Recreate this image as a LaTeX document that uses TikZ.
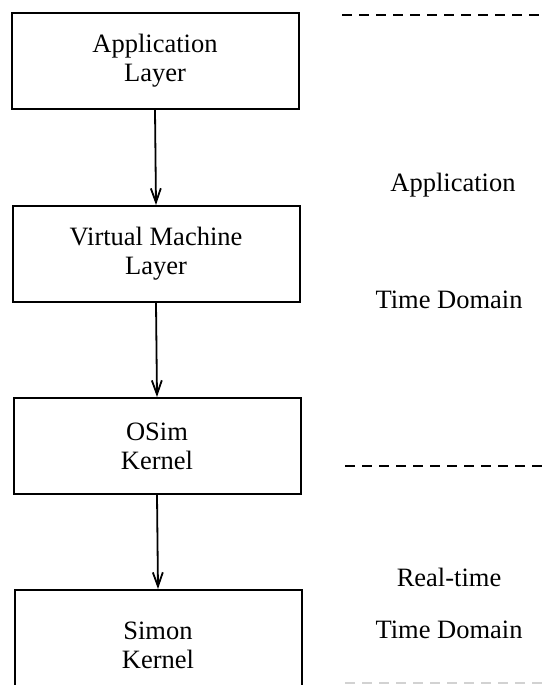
\documentclass[tikz,border=0pt]{standalone}
\usepackage{fontspec}
\setmainfont{Liberation Serif}
\usetikzlibrary{arrows.meta}
\tikzset{
  layerbox/.style={draw, line width=2pt, minimum width=287pt, minimum height=96pt, inner sep=0pt, align=center, font=\fontsize{26.5}{29}\selectfont},
  lbl/.style={font=\fontsize{26.5}{29}\selectfont, inner sep=0pt},
  flow/.style={line width=1.8pt, -{Straight Barb[length=14pt,width=10pt,line width=1.8pt]}},
  sep/.style={line width=1.8pt, dash pattern=on 10pt off 7pt},
}
\begin{document}
\begin{tikzpicture}[x=1pt,y=-1pt]
\useasboundingbox (0,0) rectangle (543,685);
\clip (0,0) rectangle (543,685);
\fill[white] (0,0) rectangle (543,685);
\node[layerbox] (app) at (155,61) {Application\\Layer};
\node[layerbox] (vm) at (156,254) {Virtual Machine\\Layer};
\node[layerbox] (osim) at (157,446) {OSim\\Kernel};
\node[layerbox, minimum height=110pt] (simon) at (158,645) {Simon\\Kernel};
\draw[flow] (app.south) -- (vm.north);
\draw[flow] (vm.south) -- (osim.north);
\draw[flow] (osim.south) -- (simon.north);
\coordinate (d1a) at (342,15);
\coordinate (d1b) at (543,15);
\coordinate (d2a) at (345,466);
\coordinate (d2b) at (543,466);
\coordinate (d3a) at (345,683);
\coordinate (d3b) at (543,683);
\draw[sep] (d1a) -- (d1b);
\draw[sep] (d2a) -- (d2b);
\draw[sep, gray!35] (d3a) -- (d3b);
\node[lbl] (tapp) at (453,185) {Application};
\node[lbl] (ttd1) at (449,300) {Time Domain};
\node[lbl] (trt) at (449,577) {Real-time};
\node[lbl] (ttd2) at (449,630) {Time Domain};
\end{tikzpicture}
\end{document}
